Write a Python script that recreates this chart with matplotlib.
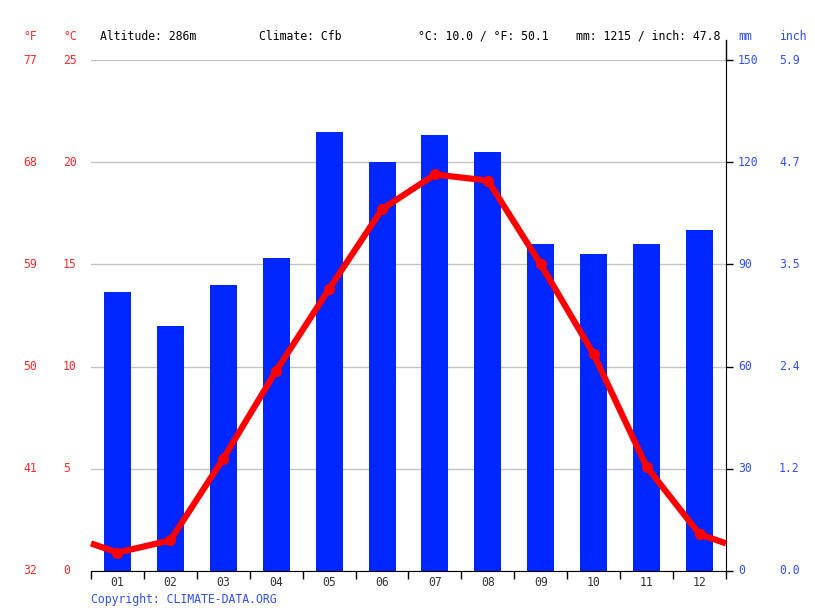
import matplotlib
matplotlib.use('agg')
import matplotlib.pyplot as plt
from matplotlib import transforms
from matplotlib.lines import Line2D

# climate data
months = ['01', '02', '03', '04', '05', '06', '07', '08', '09', '10', '11', '12']
precip_mm = [82, 72, 84, 92, 129, 120, 128, 123, 96, 93, 96, 100]
temp_c = [0.9, 1.5, 5.5, 9.8, 13.8, 17.7, 19.4, 19.1, 15.0, 10.6, 5.1, 1.8]
temp_ticks_c = [0, 5, 10, 15, 20, 25]
temp_ticks_f = ['32', '41', '50', '59', '68', '77']
precip_ticks_mm = [0, 30, 60, 90, 120, 150]
precip_ticks_in = ['0.0', '1.2', '2.4', '3.5', '4.7', '5.9']
header = [('Altitude: 286m', 100), ('Climate: Cfb', 259),
          ('°C: 10.0 / °F: 50.1', 418), ('mm: 1215 / inch: 47.8', 576)]

RED = '#ff0000'
LABEL_RED = '#ff2a2a'
BLUE = '#0026ff'
LABEL_BLUE = '#2f50ff'
FONT = 'DejaVu Sans Mono'
FS = 8.3

W, H = 815, 611
fig = plt.figure(figsize=(W / 100, H / 100), dpi=100)
plt.rcParams['font.family'] = FONT


def fx(px):
    return px / W


def fy(py):
    return 1 - py / H


ax = fig.add_axes([fx(91), fy(571), fx(726) - fx(91), fy(60) - fy(571)])
x = list(range(len(months)))

# temperature axis on top of the bars
ax2 = ax.twinx()

# precipitation bars (primary axes, drawn below)
ax.bar(x, precip_mm, width=0.51, color=BLUE, zorder=2)
ax.set_xlim(-0.5, 11.5)
ax.set_ylim(0, 150)
ax.set_yticks(precip_ticks_mm)
ax.yaxis.tick_right()
ax.tick_params(axis='y', length=5, width=1, labelright=False, labelleft=False,
               color='black')
ax.set_xticks([i + 0.5 for i in range(-1, 12)])
ax.set_xticklabels([])
ax.tick_params(axis='x', length=6, width=1, direction='out', color='black')
for s in ['top', 'left']:
    ax.spines[s].set_visible(False)
ax.spines['bottom'].set_color('black')
ax.spines['right'].set_color('black')
# right spine goes a bit above the plot
ax.add_line(Line2D([1, 1], [1, 1.04], transform=ax.transAxes, color='black',
                   lw=1, clip_on=False))
for v in precip_ticks_mm:
    ax.axhline(v, color='#c4c4c4', lw=1, zorder=1)

ax2.set_ylim(0, 25)
ax2.set_yticks([])
for s in ax2.spines.values():
    s.set_visible(False)

# temperature line, wrapping toward the Dec/Jan mean at the edges
edge = (temp_c[0] + temp_c[-1]) / 2
ax2.plot([-0.5] + x + [11.5], [edge] + temp_c + [edge], color=RED, lw=4.5,
         solid_capstyle='butt', zorder=3, clip_on=False)
ax2.plot(x, temp_c, 'o', color=RED, ms=7, zorder=4)

# axis labels
tl = transforms.blended_transform_factory(fig.transFigure, ax2.transData)
for c, f in zip(temp_ticks_c, temp_ticks_f):
    ax2.text(fx(23), c, f, transform=tl, color=LABEL_RED, fontsize=FS,
             ha='left', va='center', family=FONT)
    ax2.text(fx(63), c, str(c), transform=tl, color=LABEL_RED, fontsize=FS,
             ha='left', va='center', family=FONT)
tr = transforms.blended_transform_factory(fig.transFigure, ax.transData)
for m, i in zip(precip_ticks_mm, precip_ticks_in):
    ax.text(fx(738), m, str(m), transform=tr, color=LABEL_BLUE, fontsize=FS,
            ha='left', va='center', family=FONT)
    ax.text(fx(779), m, i, transform=tr, color=LABEL_BLUE, fontsize=FS,
            ha='left', va='center', family=FONT)

tb = transforms.blended_transform_factory(ax.transData, fig.transFigure)
for i, m in enumerate(months):
    ax.text(i, fy(582), m, transform=tb, color='#333333', fontsize=FS,
            ha='center', va='center', family=FONT)

# header
fig.text(fx(23), fy(36), '°F', color=LABEL_RED, fontsize=FS, va='center', family=FONT)
fig.text(fx(63), fy(36), '°C', color=LABEL_RED, fontsize=FS, va='center', family=FONT)
fig.text(fx(738), fy(36), 'mm', color=LABEL_BLUE, fontsize=FS, va='center', family=FONT)
fig.text(fx(779), fy(36), 'inch', color=LABEL_BLUE, fontsize=FS, va='center', family=FONT)
for txt, px in header:
    fig.text(fx(px), fy(36), txt, color='black', fontsize=FS, va='center', family=FONT)

fig.text(fx(91), fy(600), 'Copyright: CLIMATE-DATA.ORG', color=LABEL_BLUE,
         fontsize=FS, va='center', family=FONT)

fig.savefig('out.png', dpi=100)
